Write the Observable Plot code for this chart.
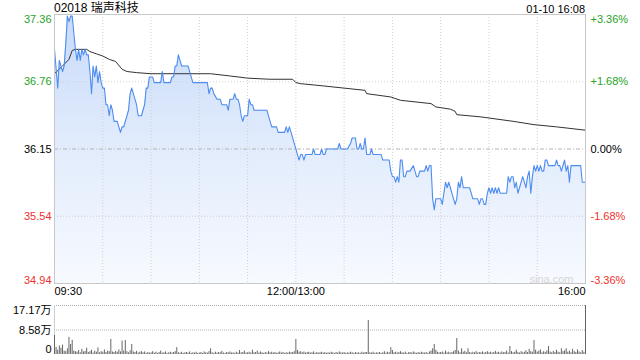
<!DOCTYPE html>
<html><head><meta charset="utf-8">
<script src="https://cdn.jsdelivr.net/npm/d3@7"></script>
<script src="https://cdn.jsdelivr.net/npm/@observablehq/plot@0.6"></script>
<style>
body{margin:0;background:#fff;}
#wrap{position:relative;width:640px;height:360px;overflow:hidden;font-family:"Liberation Sans",Arial,"Noto Sans CJK SC",sans-serif;}
#title{position:absolute;left:54px;top:0;font-size:12px;line-height:16px;color:#000;}
#date{position:absolute;right:55px;top:1px;font-size:11px;line-height:16px;color:#000;}
#main{position:absolute;left:0;top:0;}
#vol{position:absolute;left:0;top:300px;}
</style></head>
<body>
<div id="wrap">
  <div id="main"></div>
  <div id="vol"></div>
  <div id="title">02018 瑞声科技</div>
  <div id="date">01-10 16:08</div>
</div>
<script>
// ---------- data ----------
const stockTitle = "02018 瑞声科技";
const prevClose = 36.15;
const priceMin = [0,2,3,5,6,7,8,9,10,11,12,13,14,15,16,17,18,19,20,21,22,23,24,25,26,27,28,29,30,31,32,33,34,35,36,37,39,40,41,42,43,44,45,46,47,48,49,50,51,52,54,55,56,57,58,59,61,62,66,67,68,72,73,74,75,76,77,78,79,83,84,85,86,95,96,97,98,99,101,103,104,107,108,109,111,112,113,114,115,116,117,118,120,121,122,123,124,132,133,134,135,138,139,142,143,144,145,146,147,148,149,150,151,152,153,154,155,156,160,161,162,165,166,167,168,169,176,177,178,180,182,184,185,187,188,189,190,191,192,193,194,196,197,198,203,204,208,209,210,211,212,213,214,215,216,217,218,219,221,223,224,225,226,227,230,231,232,233,234,235,236,237,239,240,241,242,243,244,245,246,247,248,249,250,251,252,253,254,258,260,263,264,265,266,267,268,269,270,271,272,273,274,275,276,277,281,282,283,284,285,286,287,288,289,290,291,292,293,294,295,296,297,298,299,300,301,302,303,304,305,306,307,308,310,311,312,313,314,315,316,317,318,319,320,321,327,328,330];
const priceVal = [37.05,36.70,36.95,36.85,36.90,37.10,37.35,37.30,37.35,37.35,37.20,37.05,36.95,37.05,36.95,37.05,37.00,37.05,37.00,37.00,36.85,36.65,36.90,36.80,36.90,36.75,36.85,36.75,36.70,36.70,36.55,36.55,36.45,36.55,36.50,36.40,36.40,36.35,36.30,36.35,36.35,36.40,36.45,36.50,36.65,36.70,36.65,36.60,36.55,36.45,36.45,36.50,36.55,36.70,36.70,36.80,36.80,36.75,36.75,36.85,36.75,36.75,36.80,36.80,36.90,36.90,37.00,36.95,36.90,36.90,36.85,36.80,36.75,36.75,36.65,36.70,36.70,36.65,36.60,36.60,36.55,36.55,36.50,36.60,36.60,36.65,36.60,36.60,36.55,36.45,36.40,36.45,36.45,36.60,36.55,36.55,36.50,36.50,36.45,36.40,36.35,36.35,36.30,36.30,36.30,36.35,36.30,36.35,36.30,36.25,36.20,36.15,36.10,36.05,36.10,36.10,36.05,36.10,36.10,36.15,36.10,36.10,36.15,36.10,36.10,36.15,36.15,36.20,36.15,36.15,36.15,36.20,36.25,36.25,36.15,36.15,36.20,36.15,36.15,36.25,36.10,36.10,36.15,36.10,36.10,36.05,36.05,35.95,35.90,35.90,35.85,35.90,35.85,36.05,36.05,35.90,35.90,35.95,35.95,36.00,35.95,35.90,35.90,35.95,35.95,36.00,35.95,36.00,36.00,35.70,35.60,35.70,35.70,35.70,35.65,35.75,35.85,35.80,35.85,35.80,35.75,35.70,35.65,35.70,35.85,35.80,35.90,35.80,35.80,35.70,35.70,35.65,35.70,35.70,35.65,35.65,35.75,35.80,35.75,35.80,35.75,35.80,35.75,35.80,35.75,35.75,35.90,35.85,35.90,35.90,35.80,35.85,35.75,35.80,35.85,35.90,35.85,35.80,35.90,35.95,35.75,35.90,36.00,35.95,36.00,35.95,36.00,35.95,35.95,36.05,36.05,36.00,36.00,36.00,36.00,36.05,36.00,36.00,35.95,36.00,36.05,35.95,36.00,35.85,36.00,36.00,35.85,35.85];
const avgMin = [0,5,9,11,13,20,22,26,30,34,38,42,45,51,60,97,109,120,134,148,150,153,167,180,193,194,209,215,234,237,246,249,250,265,285,298,312,330];
const avgVal = [36.83,36.90,36.96,37.04,37.05,37.05,37.03,37.01,36.99,36.96,36.94,36.87,36.85,36.84,36.83,36.83,36.81,36.79,36.78,36.78,36.75,36.74,36.72,36.70,36.68,36.65,36.62,36.59,36.56,36.53,36.51,36.49,36.46,36.44,36.40,36.37,36.35,36.32];
// volume per minute (万股), minute 0..330
const volVal = [
6.7,2.5,1.5,3.0,2.2,3.3,1.2,1.0,2.0,6.0,3.5,5.0,1.2,1.0,0.8,1.4,0.6,1.8,0.9,1.1,2.2,0.7,1.0,1.5,0.5,1.2,0.8,2.3,0.6,1.0,
0.8,1.6,0.7,1.2,1.0,5.3,0.9,0.7,1.1,0.8,1.6,0.9,4.7,1.2,4.9,1.0,0.6,1.3,3.5,0.9,0.7,1.1,0.5,0.8,1.0,0.6,0.9,0.4,0.7,0.5,
0.6,1.0,0.5,0.8,0.4,0.7,1.2,0.5,0.6,0.9,0.4,0.6,0.8,0.5,0.7,1.0,2.4,0.6,0.5,0.8,0.4,0.6,0.7,0.5,0.9,0.4,0.6,0.5,0.8,0.4,
0.5,0.7,0.4,0.9,0.6,0.5,1.0,2.0,0.6,0.4,0.8,0.5,0.7,0.6,1.1,0.5,0.4,0.7,0.6,0.9,0.5,0.6,0.4,0.8,0.5,1.4,0.6,0.7,1.2,0.5,
0.6,0.8,0.5,1.5,0.6,0.7,1.2,0.5,0.9,0.6,0.4,0.7,0.5,1.0,0.6,0.8,0.5,0.7,0.4,0.6,0.9,0.5,0.7,0.4,0.6,0.5,0.8,0.6,0.7,1.0,
5.3,1.4,0.8,1.0,0.6,0.9,0.5,0.7,0.8,0.5,0.6,0.9,0.4,0.7,0.5,0.6,0.8,0.5,0.7,0.4,0.6,0.5,0.8,0.6,0.4,0.7,0.5,0.9,0.6,0.5,
0.7,0.4,0.6,0.5,0.8,0.6,0.4,0.7,0.5,0.6,0.4,0.8,0.5,0.7,0.7,11.9,0.6,0.5,0.8,0.4,0.6,0.5,0.7,0.4,0.6,1.0,0.5,0.8,0.6,2.4,
1.4,0.6,0.8,0.5,0.7,1.0,0.6,0.5,0.8,0.4,0.6,0.7,0.5,0.9,0.6,0.4,0.7,0.5,0.8,0.6,0.5,0.7,0.4,0.9,1.2,2.0,3.5,1.5,0.8,0.6,
0.7,0.9,0.5,1.2,0.6,0.8,0.5,0.7,1.0,1.4,5.6,1.2,0.6,2.0,0.8,1.1,0.6,2.0,0.7,0.5,0.8,0.6,1.0,0.5,0.7,0.6,0.9,0.5,0.7,1.0,
0.6,0.8,0.5,0.7,1.1,0.6,0.8,0.5,0.9,0.6,0.7,1.2,0.5,2.8,1.0,0.6,0.8,1.5,0.7,0.5,1.0,0.6,0.8,1.3,0.7,1.8,1.0,0.8,4.9,1.5,
0.8,1.2,1.6,0.6,1.0,0.7,1.3,2.8,0.9,0.6,1.1,0.7,1.5,0.8,0.6,2.0,1.0,1.3,2.0,0.8,1.2,0.6,1.8,1.0,0.7,1.6,0.9,0.6,1.4,0.8,
17.17];
const yTicks = [37.365, 36.7575, 36.15, 35.5425, 34.935];
const yTickLabels = ["37.36","36.76","36.15","35.54","34.94"];
const pctLabels = ["+3.36%","+1.68%","0.00%","-1.68%","-3.36%"];
const xTickMin = [0, 150, 330];
const xTickLabels = ["09:30","12:00/13:00","16:00"];
const volTicks = [17.17, 8.58, 0];
const volTickLabels = ["17.17万","8.58万","0"];

// ---------- build ----------
const green = "#26a426", red = "#f0302c", lineBlue = "#4d8cf0";
const FONT = "'Liberation Sans', Arial, 'Noto Sans CJK SC', sans-serif";
const priceData = priceMin.map((m,i)=>({m, p: priceVal[i]}));
const avgData = avgMin.map((m,i)=>({m, p: avgVal[i]}));
const volData = volVal.map((v,i)=>({m:i, v}));
const yLo = yTicks[yTicks.length-1], yHi = yTicks[0];
const gridMin = d3.range(30, 330, 30);
const colorFor = v => Math.abs(v-prevClose) < 1e-6 ? "#000" : (v > prevClose ? green : red);
const anchorFor = (i,n) => i===0 ? "top" : (i===n-1 ? "bottom" : "middle");
const dyFor = (i,n) => i===0 ? 1 : 0;

const labelMarks = [];
yTicks.forEach((v,i)=>{
  labelMarks.push(Plot.text([{v, t:yTickLabels[i]}], {x:()=>0, y:"v", text:"t", textAnchor:"end", dx:-3,
    lineAnchor:anchorFor(i,yTicks.length), dy:dyFor(i,yTicks.length), fill:colorFor(v), fontSize:11}));
  labelMarks.push(Plot.text([{v, t:pctLabels[i]}], {x:()=>330, y:"v", text:"t", textAnchor:"start", dx:5,
    lineAnchor:anchorFor(i,yTicks.length), dy:dyFor(i,yTicks.length), fill:colorFor(v), fontSize:11}));
});
const anchorsX = ["start","middle","end"];
xTickMin.forEach((m,i)=>{
  labelMarks.push(Plot.text([{m, t:xTickLabels[i]}], {x:"m", y:()=>yLo, text:"t", textAnchor:anchorsX[i],
    lineAnchor:"top", dy:4, fill:"#000", fontSize:11}));
});

const main = Plot.plot({
  width:640, height:300, marginLeft:54, marginRight:55, marginTop:14, marginBottom:17,
  style:{fontFamily:FONT, fontSize:"11px", background:"transparent", overflow:"visible"},
  x:{domain:[0,330], axis:null},
  y:{domain:[yLo, yHi], axis:null},
  marks:[
    Plot.areaY(priceData, {x:"m", y1:()=>yLo, y2:"p", fill:"url(#pg)"}),
    Plot.ruleX(gridMin, {stroke:"#cfcfcf", strokeDasharray:"1,2"}),
    Plot.ruleY([yTicks[1], yTicks[3]], {stroke:"#cfcfcf", strokeDasharray:"1,2"}),
    Plot.ruleY([prevClose], {stroke:"#b4b4b4", strokeDasharray:"4,2,1,2"}),
    Plot.text(["sina.com"], {frameAnchor:"bottom-right", dx:-12, dy:-1, lineAnchor:"bottom", fill:"#d6d6d6", fontSize:11}),
    Plot.line(avgData, {x:"m", y:"p", stroke:"#333", strokeWidth:1}),
    Plot.line(priceData, {x:"m", y:"p", stroke:lineBlue, strokeWidth:1.1}),
    Plot.frame({stroke:"#c8c8c8"}),
    ...labelMarks
  ]
});
// gradient definition for the area fill
const ns = "http://www.w3.org/2000/svg";
const defs = document.createElementNS(ns, "defs");
const lg = document.createElementNS(ns, "linearGradient");
lg.setAttribute("id","pg"); lg.setAttribute("x1","0"); lg.setAttribute("y1","0"); lg.setAttribute("x2","0"); lg.setAttribute("y2","1");
[["0%","#c8dbfa"],["50%","#e2ecfc"],["100%","#f7faff"]].forEach(([o,c])=>{
  const s = document.createElementNS(ns,"stop"); s.setAttribute("offset",o); s.setAttribute("stop-color",c); lg.appendChild(s);
});
defs.appendChild(lg);
main.insertBefore(defs, main.firstChild);
document.getElementById("main").appendChild(main);

const volLabelMarks = volTicks.map((v,i)=>Plot.text([{v, t:volTickLabels[i]}], {x:()=>0, y:"v", text:"t", textAnchor:"end", dx:-3,
  lineAnchor:anchorFor(i,volTicks.length), dy: i===0 ? 1 : (i===volTicks.length-1 ? -2 : 0), fill:"#000", fontSize:11}));

const vol = Plot.plot({
  width:640, height:60, marginLeft:54, marginRight:55, marginTop:5, marginBottom:6,
  style:{fontFamily:FONT, fontSize:"11px", background:"transparent", overflow:"visible"},
  x:{domain:[0,330], axis:null},
  y:{domain:[0, volTicks[0]], axis:null},
  marks:[
    Plot.ruleY([volTicks[0], volTicks[1]], {stroke:"#b0b0b0", strokeDasharray:"1,1"}),
    Plot.ruleX([0], {y1:0, y2:volTicks[0], stroke:"#cfcfcf"}),
    Plot.ruleX(volData, {x:"m", y1:0, y2:"v", stroke:"#666", strokeWidth:1}),
    ...volLabelMarks
  ]
});
document.getElementById("vol").appendChild(vol);
</script>
</body></html>
